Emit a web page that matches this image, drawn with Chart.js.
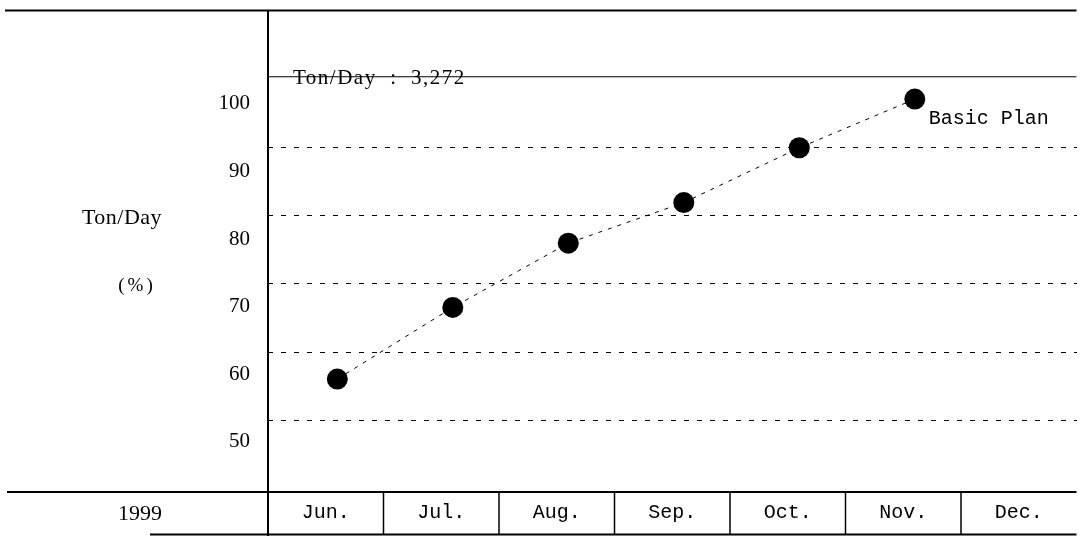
<!DOCTYPE html>
<html>
<head>
<meta charset="utf-8">
<script src="https://cdn.jsdelivr.net/npm/chart.js@4"></script>
<style>
  body { margin: 0; background: #fff; }
  #wrap { width: 1087px; height: 536px; position: relative; }
</style>
</head>
<body>
<div id="wrap"><canvas id="chart"></canvas></div>
<script>
// valeurs
const months = ['Jun.', 'Jul.', 'Aug.', 'Sep.', 'Oct.', 'Nov.', 'Dec.'];
const tonPerDay = [59.3, 69.9, 79.4, 85.4, 93.5, 100.7];   // % du plan, pas de Dec.
const yTicks = [50, 60, 70, 80, 90, 100];
const dashedLines = [53.2, 63.3, 73.4, 83.5, 93.5];
const baseLine = 104;
const baseLabel = 'Ton/Day  :  3,272';
const seriesLabel = 'Basic Plan';
const yearLabel = '1999';
const yTitle = ['Ton/Day', '(%)'];

const SERIF = '"Liberation Serif", "DejaVu Serif", serif';
const MONO = '"Liberation Mono", "DejaVu Sans Mono", monospace';

// pas de marge automatique autour des axes
const noPad = s => {
    s.paddingTop = 0;
    s.paddingBottom = 0;
    s.paddingLeft = 0;
    s.paddingRight = 0;
};

// lignes du tableau, textes libres
const tablePlugin = {
    id: 'tablePlugin',
    afterDraw(chart) {
        const ctx = chart.ctx;
        const a = chart.chartArea;
        const H = chart.height;
        const line = (x1, y1, x2, y2) => {
            ctx.beginPath();
            ctx.moveTo(x1, y1);
            ctx.lineTo(x2, y2);
            ctx.stroke();
        };
        ctx.save();
        ctx.strokeStyle = '#000';

        ctx.lineWidth = 2;
        line(5, a.top, a.right, a.top);
        line(a.left, a.top, a.left, H);
        line(7, a.bottom, a.right, a.bottom);
        line(150, H - 1.5, a.right, H - 1.5);

        // séparateurs des mois
        ctx.lineWidth = 1.5;
        const step = (a.right - a.left) / months.length;
        for (let i = 1; i < months.length; i++) {
            const bx = a.left + i * step;
            line(bx, a.bottom, bx, H - 1);
        }

        // ligne du plan de base
        const yb = chart.scales.y.getPixelForValue(baseLine);
        ctx.lineWidth = 1.2;
        line(a.left, yb, a.right, yb);

        ctx.fillStyle = '#000';
        ctx.textBaseline = 'middle';
        ctx.font = '21px ' + SERIF;
        ctx.letterSpacing = '1.5px';
        ctx.textAlign = 'left';
        ctx.fillText(baseLabel, 293, yb + 2);

        ctx.textAlign = 'center';
        ctx.letterSpacing = '0.5px';
        ctx.font = '22px ' + SERIF;
        ctx.fillText(yTitle[0], 122, 218);
        ctx.letterSpacing = '3px';
        ctx.font = '19px ' + SERIF;
        ctx.fillText(yTitle[1], 137, 286);
        ctx.letterSpacing = '0px';
        ctx.font = '22px ' + SERIF;
        ctx.fillText(yearLabel, 140, 514);

        // étiquette de la série
        const pts = chart.getDatasetMeta(0).data;
        const last = pts[pts.length - 1];
        ctx.textAlign = 'left';
        ctx.font = '20px ' + MONO;
        ctx.fillText(seriesLabel, last.x + 14, last.y + 20);
        ctx.restore();
    }
};

new Chart(document.getElementById('chart'), {
    type: 'line',
    data: {
        labels: months,
        datasets: [{
            label: seriesLabel,
            data: tonPerDay.map((v, i) => ({ x: i, y: v })),
            xAxisID: 'xp',
            yAxisID: 'y',
            borderColor: '#000',
            borderWidth: 1,
            borderDash: [4, 6],
            pointRadius: 10.5,
            pointBackgroundColor: '#000',
            pointBorderColor: '#000',
            pointBorderWidth: 0,
            tension: 0
        }]
    },
    options: {
        responsive: true,
        maintainAspectRatio: false,
        animation: false,
        layout: { padding: { top: 8, right: 7, left: 0, bottom: 0 } },
        plugins: {
            legend: { display: false },
            tooltip: { enabled: false }
        },
        scales: {
            x: {
                type: 'category',
                offset: true,
                grid: { display: false, drawTicks: false },
                border: { display: false },
                ticks: {
                    color: '#000',
                    padding: 9,
                    font: { family: MONO, size: 20 }
                },
                afterFit: s => { s.height = 44; noPad(s); }
            },
            xp: {
                type: 'linear',
                display: false,
                min: -0.6,
                max: 6.4
            },
            y: {
                min: 42.6,
                max: 113.8,
                grid: { display: false, drawTicks: false },
                border: { display: false },
                afterBuildTicks: s => { s.ticks = yTicks.map(v => ({ value: v })); },
                ticks: {
                    color: '#000',
                    padding: 18,
                    font: { family: SERIF, size: 21 }
                },
                afterFit: s => { s.width = 268; noPad(s); }
            },
            yg: {
                position: 'right',
                min: 42.6,
                max: 113.8,
                afterBuildTicks: s => { s.ticks = dashedLines.map(v => ({ value: v })); },
                grid: {
                    color: '#000',
                    lineWidth: 1,
                    drawTicks: false
                },
                border: { display: false, dash: [5, 8] },
                ticks: { display: false },
                afterFit: s => { s.width = 0; noPad(s); }
            }
        }
    },
    plugins: [tablePlugin]
});
</script>
</body>
</html>
